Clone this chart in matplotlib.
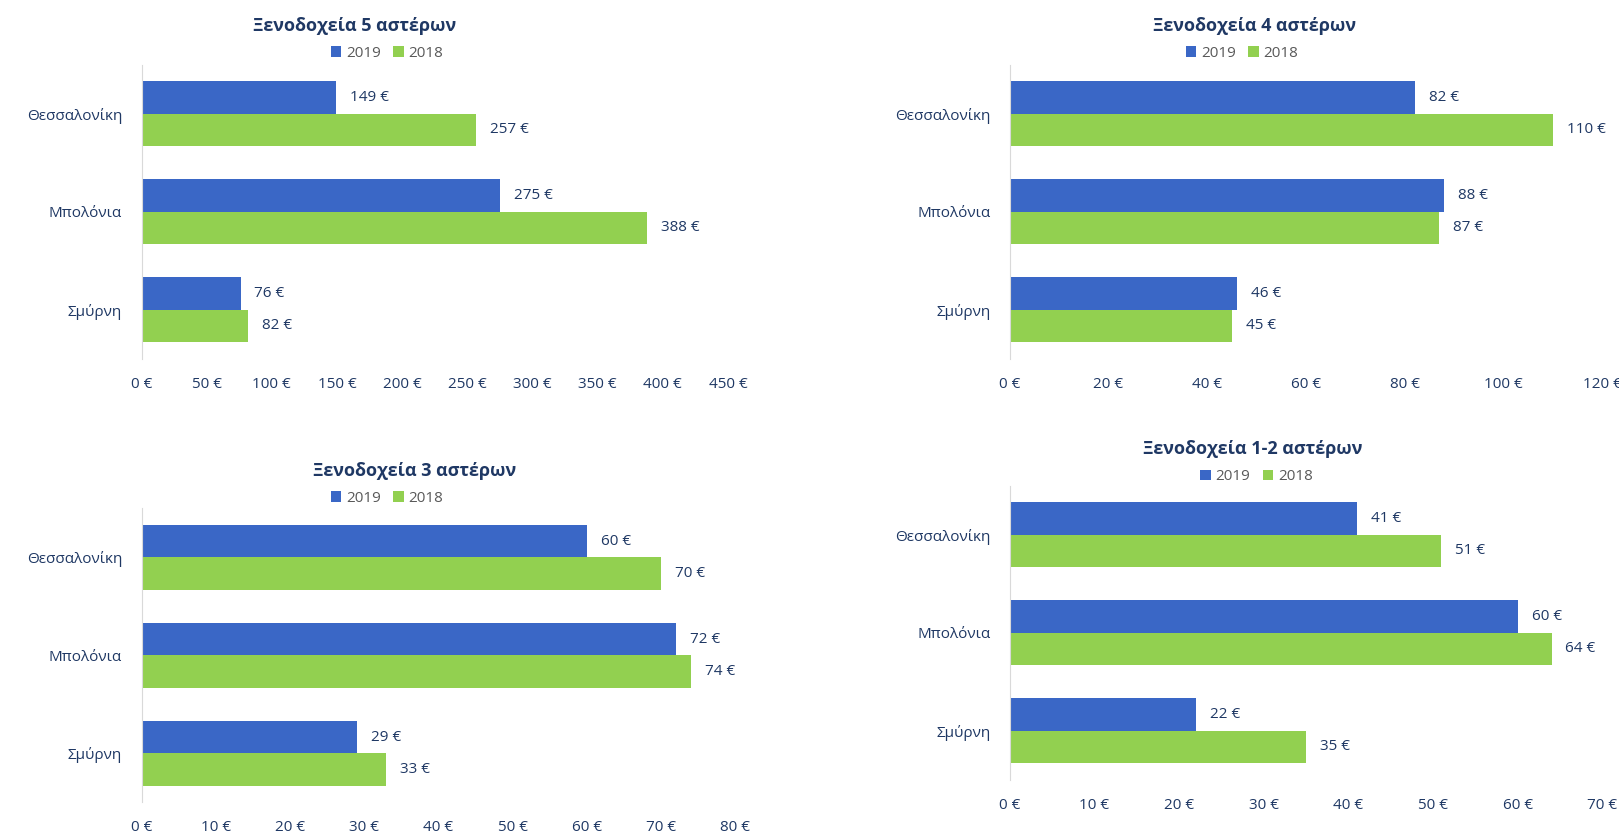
import matplotlib
matplotlib.use('Agg')
import matplotlib.pyplot as plt
from matplotlib.ticker import FuncFormatter, MultipleLocator

plt.rcParams['font.family'] = ['Open Sans', 'DejaVu Sans']

cities = ['Θεσσαλονίκη', 'Μπολόνια', 'Σμύρνη']
titles = ['Ξενοδοχεία 5 αστέρων', 'Ξενοδοχεία 4 αστέρων',
          'Ξενοδοχεία 3 αστέρων', 'Ξενοδοχεία 1-2 αστέρων']
values_2019 = [[149, 275, 76], [82, 88, 46], [60, 72, 29], [41, 60, 22]]
values_2018 = [[257, 388, 82], [110, 87, 45], [70, 74, 33], [51, 64, 35]]
x_max = [450, 120, 80, 70]
x_step = [50, 20, 10, 10]

BLUE = '#3A67C6'
GREEN = '#92D050'
NAVY = '#1F3864'
GREY = '#595959'

# axes rects and title / legend positions (figure fraction)
rects = [[0.0874, 0.572, 0.3622, 0.351],
         [0.6237, 0.572, 0.366, 0.351],
         [0.0874, 0.0425, 0.3667, 0.351],
         [0.6237, 0.0696, 0.366, 0.351]]
title_pos = [(0.219, 0.969), (0.775, 0.969), (0.256, 0.438), (0.774, 0.464)]
legend_pos = [(0.239, 0.936), (0.767, 0.936), (0.239, 0.405), (0.776, 0.431)]

fig = plt.figure(figsize=(16.19, 8.38), dpi=100)

for i in range(4):
    ax = fig.add_axes(rects[i])
    y = list(range(len(cities)))
    h = 0.33
    b1 = ax.barh([v - h / 2 for v in y], values_2019[i], height=h, color=BLUE, label='2019')
    b2 = ax.barh([v + h / 2 for v in y], values_2018[i], height=h, color=GREEN, label='2018')
    for bars, vals in ((b1, values_2019[i]), (b2, values_2018[i])):
        for bar, v in zip(bars, vals):
            ax.annotate('{} €'.format(v), (bar.get_width(), bar.get_y() + bar.get_height() / 2),
                        xytext=(10, 0), textcoords='offset points', va='center', ha='left',
                        fontsize=11, color=NAVY)
    ax.set_ylim(2.5, -0.5)
    ax.set_xlim(0, x_max[i])
    ax.xaxis.set_major_locator(MultipleLocator(x_step[i]))
    ax.xaxis.set_major_formatter(FuncFormatter(lambda x, p: '{:d} €'.format(int(round(x)))))
    ax.set_yticks(y)
    ax.set_yticklabels(cities)
    ax.tick_params(axis='both', length=0, labelsize=11, colors=NAVY)
    ax.tick_params(axis='x', pad=13)
    ax.tick_params(axis='y', pad=14)
    for s in ('top', 'right', 'bottom'):
        ax.spines[s].set_visible(False)
    ax.spines['left'].set_color('#D9D9D9')
    fig.text(title_pos[i][0], title_pos[i][1], titles[i], ha='center', va='center',
             fontsize=13, fontweight='bold', color=NAVY)
    ax.legend(handles=[b1, b2], loc='center', bbox_to_anchor=legend_pos[i],
              bbox_transform=fig.transFigure, ncol=2, frameon=False, fontsize=11,
              handlelength=0.7, handleheight=0.7, handletextpad=0.3, columnspacing=0.8,
              labelcolor=GREY)

fig.savefig('out.png', dpi=100)
